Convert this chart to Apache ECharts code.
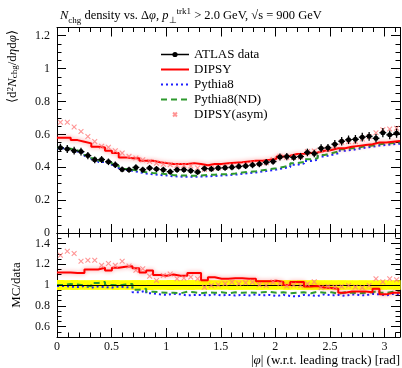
<!DOCTYPE html>
<html>
<head>
<meta charset="utf-8">
<script src="https://cdn.jsdelivr.net/npm/echarts@6/dist/echarts.min.js"></script>
<style>
html, body { margin: 0; padding: 0; background: #fff; }
#chart { width: 402px; height: 368px; }
</style>
</head>
<body>
<div id="chart"></div>
<script>
// 50 bins in |phi| between 0 and pi
const nBins = 50;
const binW = Math.PI / nBins;

const xTicks = [0, 0.5, 1, 1.5, 2, 2.5, 3];
const mainYTicks = [0, 0.2, 0.4, 0.6, 0.8, 1, 1.2];
const ratioYTicks = [0.6, 0.8, 1, 1.2, 1.4];

// upper panel
const atlasData = [0.518, 0.511, 0.501, 0.495, 0.471, 0.445, 0.447, 0.433, 0.415, 0.387,
  0.385, 0.399, 0.385, 0.395, 0.389, 0.385, 0.373, 0.385, 0.385, 0.379,
  0.371, 0.392, 0.39, 0.395, 0.397, 0.40, 0.405, 0.408, 0.413, 0.42,
  0.43, 0.435, 0.462, 0.465, 0.46, 0.465, 0.49, 0.484, 0.516, 0.518,
  0.54, 0.558, 0.567, 0.57, 0.583, 0.588, 0.576, 0.61, 0.597, 0.607];
const atlasErr = [0.025, 0.024, 0.024, 0.023, 0.022, 0.021, 0.021, 0.02, 0.02, 0.018,
  0.018, 0.019, 0.018, 0.019, 0.018, 0.018, 0.018, 0.018, 0.018, 0.018,
  0.017, 0.018, 0.018, 0.018, 0.018, 0.019, 0.019, 0.019, 0.019, 0.02,
  0.02, 0.02, 0.021, 0.022, 0.021, 0.022, 0.023, 0.023, 0.024, 0.024,
  0.025, 0.026, 0.026, 0.026, 0.027, 0.027, 0.026, 0.028, 0.027, 0.028];
const dipsy = [0.58, 0.58, 0.565, 0.555, 0.545, 0.525, 0.52, 0.5, 0.486, 0.46,
  0.455, 0.455, 0.44, 0.44, 0.43, 0.425, 0.42, 0.42, 0.42, 0.425,
  0.42, 0.412, 0.42, 0.42, 0.425, 0.428, 0.43, 0.435, 0.44, 0.44,
  0.445, 0.452, 0.465, 0.47, 0.48, 0.482, 0.486, 0.49, 0.5, 0.505,
  0.515, 0.516, 0.525, 0.53, 0.535, 0.54, 0.55, 0.55, 0.555, 0.56];
const pythia8 = [0.515, 0.505, 0.495, 0.49, 0.468, 0.448, 0.432, 0.42, 0.405, 0.385,
  0.378, 0.37, 0.362, 0.357, 0.353, 0.35, 0.345, 0.343, 0.342, 0.342,
  0.343, 0.345, 0.347, 0.35, 0.352, 0.355, 0.36, 0.364, 0.368, 0.374,
  0.38, 0.386, 0.394, 0.402, 0.415, 0.422, 0.438, 0.445, 0.465, 0.475,
  0.485, 0.5, 0.505, 0.512, 0.52, 0.525, 0.532, 0.535, 0.54, 0.543];
const pythia8ND = [0.518, 0.512, 0.502, 0.492, 0.475, 0.455, 0.44, 0.428, 0.41, 0.39,
  0.385, 0.378, 0.37, 0.365, 0.362, 0.358, 0.352, 0.35, 0.35, 0.348,
  0.35, 0.353, 0.355, 0.357, 0.358, 0.362, 0.368, 0.372, 0.376, 0.382,
  0.388, 0.394, 0.402, 0.41, 0.425, 0.432, 0.448, 0.455, 0.475, 0.485,
  0.495, 0.51, 0.515, 0.52, 0.528, 0.532, 0.54, 0.543, 0.547, 0.55];
const dipsyAsym = [0.674, 0.674, 0.645, 0.617, 0.587, 0.556, 0.527, 0.522, 0.5, 0.486,
  0.466, 0.456, 0.445, 0.435, 0.425, 0.419, 0.415, 0.411, 0.41, 0.408,
  0.395, 0.386, 0.39, 0.396, 0.402, 0.41, 0.41, 0.417, 0.425, 0.421,
  0.428, 0.447, 0.467, 0.46, 0.46, 0.463, 0.495, 0.499, 0.503, 0.51,
  0.53, 0.552, 0.556, 0.556, 0.572, 0.585, 0.61, 0.628, 0.633, 0.637];

// lower panel, MC/data
const ratioDipsy = [1.12, 1.12, 1.115, 1.115, 1.15, 1.15, 1.165, 1.14, 1.165, 1.175,
  1.18, 1.16, 1.12, 1.14, 1.095, 1.09, 1.10, 1.09, 1.09, 1.115,
  1.115, 1.045, 1.075, 1.06, 1.06, 1.066, 1.066, 1.06, 1.06, 1.035,
  1.035, 1.04, 1.03, 1.0, 1.028, 1.028, 0.985, 0.99, 0.975, 0.97,
  0.965, 0.925, 0.937, 0.937, 0.937, 0.93, 0.965, 0.91, 0.925, 0.925];
const ratioPythia8 = [0.99, 0.985, 0.98, 0.99, 0.975, 0.985, 0.98, 0.975, 0.985, 0.98,
  0.975, 0.93, 0.945, 0.92, 0.91, 0.905, 0.915, 0.91, 0.9, 0.905,
  0.905, 0.9, 0.91, 0.9, 0.905, 0.9, 0.905, 0.9, 0.91, 0.9,
  0.905, 0.895, 0.905, 0.895, 0.89, 0.905, 0.9, 0.895, 0.91, 0.9,
  0.905, 0.895, 0.91, 0.905, 0.9, 0.915, 0.91, 0.9, 0.915, 0.91];
const ratioPythia8ND = [1.0, 1.01, 1.005, 0.995, 0.99, 1.02, 1.03, 1.0, 0.995, 1.005,
  1.01, 0.955, 0.965, 0.935, 0.93, 0.925, 0.925, 0.92, 0.935, 0.93,
  0.92, 0.93, 0.925, 0.93, 0.92, 0.93, 0.925, 0.93, 0.925, 0.93,
  0.935, 0.925, 0.93, 0.92, 0.925, 0.93, 0.92, 0.935, 0.925, 0.93,
  0.915, 0.93, 0.925, 0.92, 0.925, 0.93, 0.945, 0.925, 0.935, 0.93];
const ratioDipsyAsym = [1.286, 1.325, 1.303, 1.228, 1.238, 1.238, 1.189, 1.206, 1.189, 1.228,
  1.183, 1.141, 1.157, 1.085, 1.044, 1.092, 1.105, 1.06, 1.066, 1.076,
  1.06, 0.979, 0.995, 1.002, 1.012, 1.028, 1.012, 1.021, 1.028, 1.002,
  0.995, 1.028, 1.012, 0.99, 1.0, 0.995, 1.01, 1.03, 0.975, 0.985,
  0.98, 0.985, 0.995, 0.98, 0.975, 0.995, 1.06, 1.03, 1.06, 1.05];

const FONT = 'Liberation Serif';
const RED = '#ff0000';
const BLUE = '#1f1fff';
const GREEN = '#2e9a2e';
const PINK = '#ff7b7b';
const xMark = 'path://M0,0M10,10M2,2L8,8M8,2L2,8';

// histogram as steps: left edge of every bin, plus the last right edge
function stepData(vals) {
  const d = vals.map((v, i) => [i * binW, v]);
  d.push([Math.PI, vals[vals.length - 1]]);
  return d;
}
function centerData(vals) {
  return vals.map((v, i) => [(i + 0.5) * binW, v]);
}

function xAx(grid, pos, major, labels) {
  const ax = {
    type: 'value', gridIndex: grid, position: pos, min: 0, max: Math.PI,
    axisLine: { show: major, onZero: false, lineStyle: { color: '#000', width: 1 } },
    axisTick: { show: true, inside: true, length: major ? 9 : 4.5, lineStyle: { color: '#000', width: 1 } },
    axisLabel: { show: false },
    splitLine: { show: false }
  };
  if (major) {
    ax.axisTick.customValues = xTicks;
  } else {
    ax.interval = 0.1;
  }
  if (labels) {
    ax.axisLabel = { show: true, customValues: xTicks, margin: 4, fontFamily: FONT, fontSize: 12, color: '#111' };
  }
  return ax;
}
function yAx(grid, pos, lo, hi, ticks, major, labels) {
  const ax = {
    type: 'value', gridIndex: grid, position: pos, min: lo, max: hi,
    axisLine: { show: major, onZero: false, lineStyle: { color: '#000', width: 1 } },
    axisTick: { show: true, inside: true, length: major ? 9 : 4.5, lineStyle: { color: '#000', width: 1 } },
    axisLabel: { show: false },
    splitLine: { show: false }
  };
  if (major) {
    ax.axisTick.customValues = ticks;
  } else {
    ax.interval = 0.05;
  }
  if (labels) {
    ax.axisLabel = { show: true, customValues: ticks, margin: 7, fontFamily: FONT, fontSize: 12, color: '#111' };
  }
  return ax;
}

function subStyles(size) {
  return {
    i: { fontStyle: 'italic', fontFamily: FONT, fontSize: size },
    sub: { fontFamily: FONT, fontSize: 9, lineHeight: 9, verticalAlign: 'bottom' },
    sup: { fontFamily: FONT, fontSize: 9, lineHeight: 9, verticalAlign: 'top' }
  };
}

const hideDot = { opacity: 0 };
const chart = echarts.init(document.getElementById('chart'));
chart.setOption({
  animation: false,
  backgroundColor: '#fff',
  title: {
    left: 55, top: 2,
    text: '{i|N}{sub|chg} density vs. Δ{i|φ}, {i|p}{sub|⊥}{sup|trk1} > 2.0 GeV, √s = 900 GeV',
    textStyle: { fontFamily: FONT, fontSize: 12.5, fontWeight: 'normal', color: '#000', lineHeight: 18, rich: subStyles(12.5) }
  },
  grid: [
    { left: 57, right: 2, top: 27.5, height: 205.5 },
    { left: 57, right: 2, top: 233, height: 104 }
  ],
  xAxis: [
    xAx(0, 'bottom', true, false), xAx(0, 'bottom', false, false),
    xAx(0, 'top', true, false), xAx(0, 'top', false, false),
    xAx(1, 'bottom', true, true), xAx(1, 'bottom', false, false),
    xAx(1, 'top', true, false), xAx(1, 'top', false, false)
  ],
  yAxis: [
    yAx(0, 'left', 0, 1.25, mainYTicks, true, true), yAx(0, 'left', 0, 1.25, mainYTicks, false, false),
    yAx(0, 'right', 0, 1.25, mainYTicks, true, false), yAx(0, 'right', 0, 1.25, mainYTicks, false, false),
    yAx(1, 'left', 0.5, 1.5, ratioYTicks, true, true), yAx(1, 'left', 0.5, 1.5, ratioYTicks, false, false),
    yAx(1, 'right', 0.5, 1.5, ratioYTicks, true, false), yAx(1, 'right', 0.5, 1.5, ratioYTicks, false, false)
  ],
  legend: {
    orient: 'vertical', left: 160, top: 48, padding: 0,
    itemWidth: 28, itemHeight: 6.5, itemGap: 2,
    textStyle: { fontFamily: FONT, fontSize: 13, color: '#000' },
    data: [
      { name: 'ATLAS data', lineStyle: { color: '#000', width: 1.5, opacity: 1 } },
      { name: 'DIPSY', itemStyle: hideDot },
      { name: 'Pythia8', itemStyle: hideDot },
      { name: 'Pythia8(ND)', itemStyle: hideDot },
      { name: 'DIPSY(asym)' }
    ]
  },
  graphic: [
    {
      type: 'text', x: 13, y: 30, rotation: Math.PI / 2,
      style: {
        text: '⟨d{sup|2}{i|N}{sub|chg}/d{i|η}d{i|φ}⟩',
        rich: subStyles(13), font: '13px "Liberation Serif"', fill: '#000', align: 'right', verticalAlign: 'middle'
      }
    },
    {
      type: 'text', x: 17, y: 285, rotation: Math.PI / 2,
      style: { text: 'MC/data', font: '13px "Liberation Serif"', fill: '#000', align: 'center', verticalAlign: 'middle' }
    },
    {
      type: 'text', x: 400, y: 361,
      style: {
        text: '|{i|φ}| (w.r.t. leading track) [rad]',
        rich: subStyles(13), font: '13px "Liberation Serif"', fill: '#000', align: 'right', verticalAlign: 'middle'
      }
    }
  ],
  series: [
    // ---- upper panel
    {
      name: 'Pythia8', type: 'line', step: 'end', xAxisIndex: 0, yAxisIndex: 0,
      data: stepData(pythia8), symbol: 'none', color: BLUE,
      lineStyle: { color: BLUE, width: 2, type: [2, 3] }, z: 3
    },
    {
      name: 'Pythia8(ND)', type: 'line', step: 'end', xAxisIndex: 0, yAxisIndex: 0,
      data: stepData(pythia8ND), symbol: 'none', color: GREEN,
      lineStyle: { color: GREEN, width: 2, type: [6, 4] }, z: 4
    },
    {
      name: 'DIPSY', type: 'line', step: 'end', xAxisIndex: 0, yAxisIndex: 0,
      data: stepData(dipsy), symbol: 'none', color: RED,
      lineStyle: { color: RED, width: 2, shadowColor: 'rgba(255,0,0,0.45)', shadowBlur: 4 }, z: 5
    },
    {
      name: 'DIPSY(asym)', type: 'scatter', xAxisIndex: 0, yAxisIndex: 0,
      data: centerData(dipsyAsym), symbol: xMark, symbolSize: 8,
      itemStyle: { color: 'none', borderColor: PINK, borderWidth: 1.1 }, z: 6
    },
    {
      type: 'custom', xAxisIndex: 0, yAxisIndex: 0, z: 7,
      data: atlasData.map((v, i) => [(i + 0.5) * binW, v, atlasErr[i]]),
      renderItem: function (params, api) {
        const x = api.value(0), y = api.value(1), e = api.value(2);
        const t = api.coord([x, y + e]), b = api.coord([x, y - e]);
        const l = api.coord([x - binW / 2, y]), r = api.coord([x + binW / 2, y]);
        return {
          type: 'group', children: [
            { type: 'line', shape: { x1: t[0], y1: t[1], x2: b[0], y2: b[1] }, style: { stroke: '#000', lineWidth: 1.3 } },
            { type: 'line', shape: { x1: l[0], y1: l[1], x2: r[0], y2: r[1] }, style: { stroke: '#000', lineWidth: 1.3 } }
          ]
        };
      }
    },
    {
      name: 'ATLAS data', type: 'line', xAxisIndex: 0, yAxisIndex: 0,
      data: centerData(atlasData), symbol: 'circle', symbolSize: 5, color: '#000',
      itemStyle: { color: '#000' }, lineStyle: { opacity: 0 }, z: 8
    },
    // ---- lower panel
    {
      type: 'custom', xAxisIndex: 4, yAxisIndex: 4, z: 1,
      data: atlasErr.map((e, i) => [i * binW, e / atlasData[i]]),
      renderItem: function (params, api) {
        const x0 = api.value(0), e = api.value(1);
        const p0 = api.coord([x0, 1 + e]), p1 = api.coord([x0 + binW, 1 - e]);
        return { type: 'rect', shape: { x: p0[0], y: p0[1], width: p1[0] - p0[0] + 0.6, height: p1[1] - p0[1] }, style: { fill: '#ffff00' } };
      },
      markLine: {
        silent: true, symbol: 'none', label: { show: false },
        lineStyle: { color: '#000', width: 1, type: 'solid' },
        data: [{ yAxis: 1 }]
      }
    },
    {
      type: 'line', step: 'end', xAxisIndex: 4, yAxisIndex: 4,
      data: stepData(ratioPythia8), symbol: 'none',
      lineStyle: { color: BLUE, width: 2, type: [2, 3] }, z: 3
    },
    {
      type: 'line', step: 'end', xAxisIndex: 4, yAxisIndex: 4,
      data: stepData(ratioPythia8ND), symbol: 'none',
      lineStyle: { color: GREEN, width: 2, type: [6, 4] }, z: 4
    },
    {
      type: 'line', step: 'end', xAxisIndex: 4, yAxisIndex: 4,
      data: stepData(ratioDipsy), symbol: 'none',
      lineStyle: { color: RED, width: 2, shadowColor: 'rgba(255,0,0,0.45)', shadowBlur: 4 }, z: 5
    },
    {
      type: 'scatter', xAxisIndex: 4, yAxisIndex: 4,
      data: centerData(ratioDipsyAsym), symbol: xMark, symbolSize: 8,
      itemStyle: { color: 'none', borderColor: PINK, borderWidth: 1.1 }, z: 6
    }
  ]
});
</script>
</body>
</html>
